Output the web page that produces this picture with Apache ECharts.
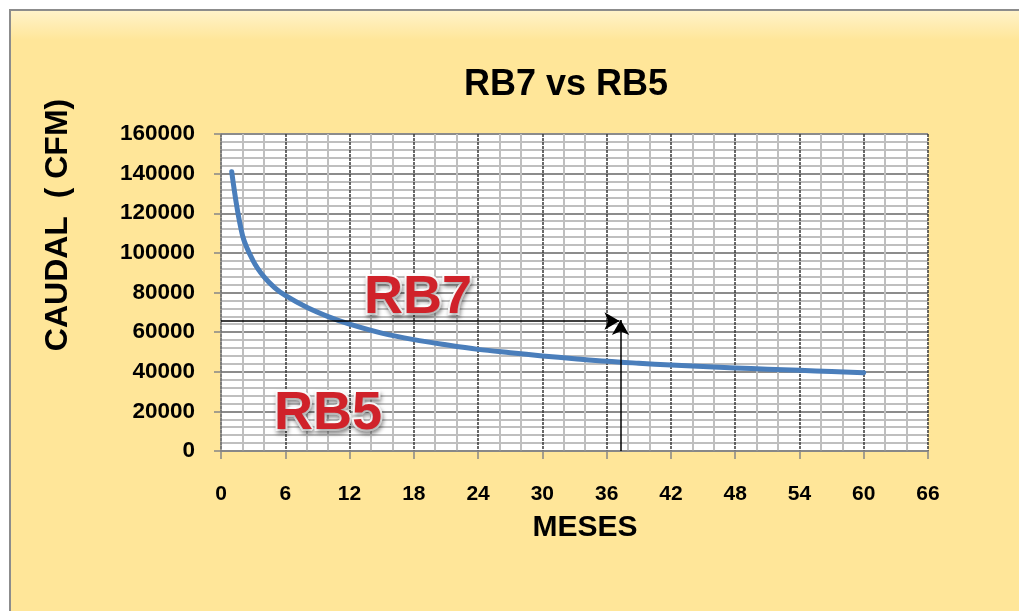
<!DOCTYPE html>
<html>
<head>
<meta charset="utf-8">
<script src="https://cdn.jsdelivr.net/npm/echarts@6/dist/echarts.min.js"></script>
<style>
html,body{margin:0;padding:0;background:#fff;}
#c{width:1019px;height:611px;}
</style>
</head>
<body>
<div id="c"></div>
<script>
// ---- data ----
const months = [1, 2, 3, 4, 5, 6, 8, 10, 12, 15, 18, 21, 24, 27, 30, 33, 36, 39, 42, 45, 48, 51, 54, 57, 60];
const caudal = [141000, 109000, 96000, 88000, 82500, 78500, 72500, 67800, 64000, 59500, 56200, 53600, 51300, 49600, 48000, 46600, 45300, 44300, 43400, 42600, 41900, 41300, 40700, 40100, 39500];
const xTicks = [0, 6, 12, 18, 24, 30, 36, 42, 48, 54, 60, 66];
const yTicks = [0, 20000, 40000, 60000, 80000, 100000, 120000, 140000, 160000];
const readCaudal = 65600;   // horizontal reading arrow level
const readMonth = 37.3;     // vertical reading arrow position
const zoneLabels = ['RB7', 'RB5'];
const zoneLabelPos = [[18.4, 77200], [10.0, 18700]];

const chart = echarts.init(document.getElementById('c'), null, {renderer: 'canvas'});
const F = '"Liberation Sans", Arial, sans-serif';

const option = {
  backgroundColor: '#ffffff',
  animation: false,
  title: {
    text: 'RB7 vs RB5',
    left: 561, top: 62, textAlign: 'center',
    textStyle: {fontFamily: F, fontWeight: 'bold', fontSize: 36, color: '#000'}
  },
  graphic: [
    {
      type: 'rect', z: -10, silent: true,
      shape: {x: 10, y: 10, width: 1020, height: 620},
      style: {
        fill: new echarts.graphic.LinearGradient(0, 0, 0, 1, [
          {offset: 0, color: '#fff3cc'}, {offset: 0.05, color: '#ffe699'}, {offset: 1, color: '#ffe699'}
        ]),
        stroke: '#8c8c8c', lineWidth: 2
      }
    },
    {
      type: 'text', silent: true,
      x: 58, y: 225, rotation: Math.PI / 2,
      style: {
        text: 'CAUDAL  ( CFM)', fontFamily: F, fontWeight: 'bold', fontSize: 32,
        fill: '#000', align: 'center', verticalAlign: 'middle'
      }
    }
  ],
  grid: {
    left: 221, top: 134, right: 91, bottom: 160,
    show: true, backgroundColor: '#ffffff', borderWidth: 0
  },
  xAxis: {
    type: 'value', min: 0, max: 66, interval: 6,
    name: 'MESES', nameLocation: 'middle', nameGap: 62,
    nameTextStyle: {fontFamily: F, fontWeight: 'bold', fontSize: 30, color: '#000', padding: [0, 0, 0, 21]},
    axisLine: {show: true, lineStyle: {color: '#868686', width: 1.5}},
    axisTick: {show: true, length: 8, lineStyle: {color: '#868686', width: 1.5}},
    axisLabel: {
      margin: 33, fontFamily: F, fontWeight: 'bold', fontSize: 21, color: '#000',
      formatter: v => xTicks.includes(v) ? String(v) : ''
    },
    splitLine: {show: true, lineStyle: {color: '#3a3a3a', width: 1.5, type: [3, 1]}},
    minorTick: {show: false, splitNumber: 3},
    minorSplitLine: {show: true, lineStyle: {color: '#bfbfbf', width: 2}}
  },
  yAxis: {
    type: 'value', min: 0, max: 160000, interval: 20000,
    axisLine: {show: true, lineStyle: {color: '#868686', width: 1.5}},
    axisTick: {show: true, length: 7, lineStyle: {color: '#868686', width: 1.5}},
    axisLabel: {
      margin: 26, fontFamily: F, fontWeight: 'bold', fontSize: 22.5, color: '#000',
      formatter: v => yTicks.includes(v) ? String(v) : ''
    },
    splitLine: {show: true, lineStyle: {color: '#8c8c8c', width: 2}},
    minorTick: {show: false, splitNumber: 5},
    minorSplitLine: {show: true, lineStyle: {color: '#bfbfbf', width: 2}}
  },
  series: [
    {
      type: 'line',
      data: months.map((m, i) => [m, caudal[i]]),
      smooth: 0.35,
      showSymbol: false, symbol: 'none',
      lineStyle: {color: '#4a7ebb', width: 5, cap: 'round', join: 'round'},
      z: 3
    },
    {
      type: 'line', data: [], z: 4,
      markLine: {
        silent: true, animation: false,
        symbol: ['none', 'arrow'], symbolSize: [13, 15],
        label: {show: false},
        lineStyle: {color: '#000', width: 1.5, type: 'solid'},
        data: [
          [{coord: [0, readCaudal]}, {coord: [readMonth - 0.1, readCaudal]}],
          [{coord: [readMonth, 0]}, {coord: [readMonth, readCaudal + 500]}]
        ]
      },
      markPoint: {
        silent: true, symbol: 'rect', symbolSize: 0,
        label: {
          show: true, position: 'inside',
          fontFamily: F, fontWeight: 'bold', fontSize: 54,
          color: '#d0222a',
          textBorderColor: '#ffffff', textBorderWidth: 4,
          textShadowColor: 'rgba(0,0,0,0.35)', textShadowBlur: 4, textShadowOffsetX: 1, textShadowOffsetY: 3,
          formatter: p => p.name
        },
        data: zoneLabels.map((n, i) => ({name: n, coord: zoneLabelPos[i]}))
      }
    }
  ]
};
chart.setOption(option);
</script>
</body>
</html>
